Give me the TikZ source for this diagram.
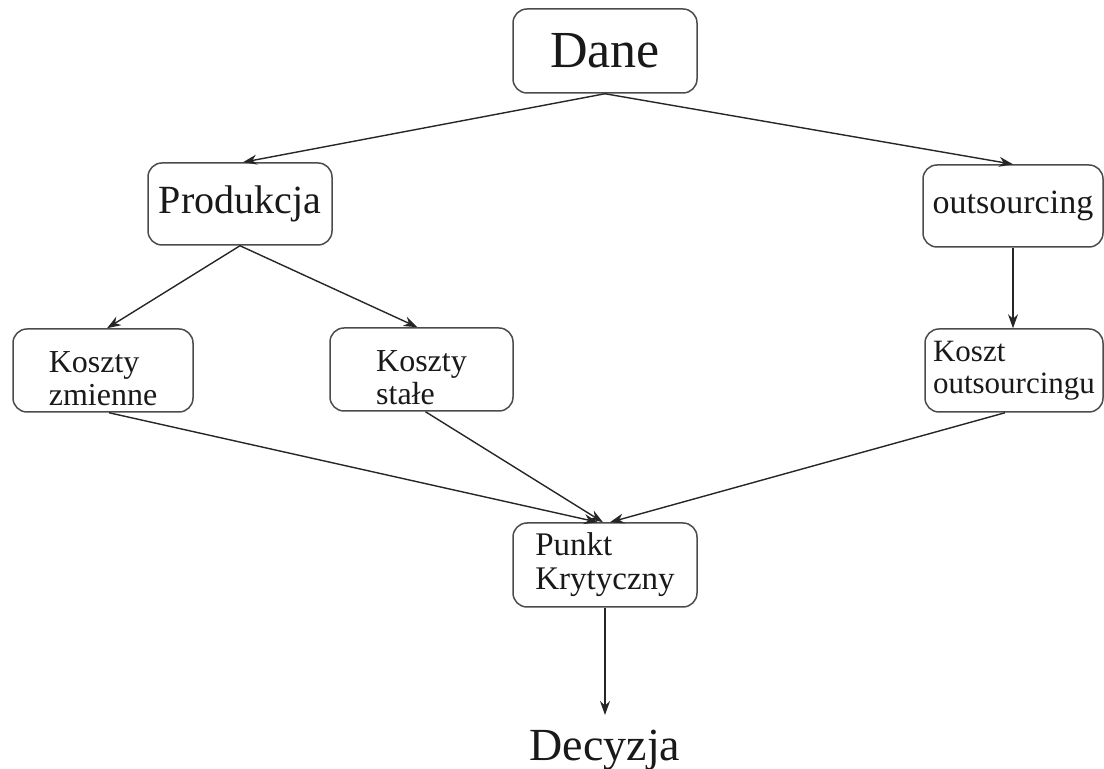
\documentclass[tikz,border=0pt]{standalone}
\usepackage{fontspec}
\setmainfont{Liberation Serif}
\usetikzlibrary{arrows.meta}
\begin{document}
\begin{tikzpicture}[x=0.5pt,y=-0.5pt,
  box/.style={draw=black!70,line width=0.75pt,rounded corners=7pt,fill=white,inner sep=0pt,align=left,text=black!90},
  conn/.style={draw=black!85,line width=0.7pt,-{Stealth[length=7pt,width=5pt]}}]
\useasboundingbox (0,0) rectangle (1104,769);
\node[box,minimum width=92pt,minimum height=42pt,font=\fontsize{26}{30}\selectfont] (dane) at (605,51) {Dane};
\node[box,minimum width=92pt,minimum height=41pt,font=\fontsize{20}{23}\selectfont] (prod) at (240,204) {Produkcja};
\node[box,minimum width=90pt,minimum height=41pt,font=\fontsize{17}{20}\selectfont] (outs) at (1013,206) {outsourcing};
\node[box,minimum width=90pt,minimum height=41.5pt,font=\fontsize{16}{16.5}\selectfont] (kz) at (103,370.5) {\rule{0pt}{19pt}Koszty\\zmienne};
\node[box,minimum width=91.5pt,minimum height=41.5pt,font=\fontsize{16}{16.5}\selectfont] (ks) at (421.5,369.5) {\rule{0pt}{19pt}Koszty\\stałe};
\node[box,minimum width=89pt,minimum height=41.5pt,font=\fontsize{15.5}{16}\selectfont] (ko) at (1014,370.5) {Koszt\\outsourcingu};
\node[box,minimum width=92pt,minimum height=42pt,font=\fontsize{16.5}{17}\selectfont] (pk) at (605,565) {Punkt\\Krytyczny};
\node[anchor=base,inner sep=0pt,font=\fontsize{23}{27}\selectfont,text=black!90] (dec) at (605,761) {Decyzja};
\coordinate (dectip) at (605,715);
\draw[conn] (dane.south) -- ([xshift=1.5pt]prod.north);
\draw[conn] (dane.south) -- (outs.north);
\draw[conn] (prod.south) -- ([xshift=2pt]kz.north);
\draw[conn] (prod.south) -- ([xshift=-2pt]ks.north);
\draw[conn] (outs.south) -- (outs.south |- ko.north);
\draw[conn] ([xshift=3pt]kz.south) -- ([xshift=-3.5pt]pk.north);
\draw[conn] ([xshift=2pt]ks.south) -- ([xshift=-1pt]pk.north);
\draw[conn] ([xshift=-4.5pt]ko.south) -- ([xshift=2.5pt]pk.north);
\draw[conn] (pk.south) -- (dectip);
\end{tikzpicture}
\end{document}
